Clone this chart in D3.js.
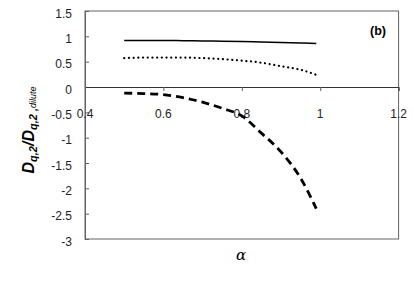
<!DOCTYPE html>
<html>
<head>
<meta charset="utf-8">
<script src="https://cdn.jsdelivr.net/npm/d3@7"></script>
<style>
  body { margin: 0; background: #fff; }
  text { font-family: "Liberation Sans", Arial, sans-serif; }
</style>
</head>
<body>
<svg id="chart" width="414" height="284"></svg>
<script>
// alpha values where the curves were read
const alphas = [0.5, 0.55, 0.6, 0.65, 0.7, 0.75, 0.8, 0.85, 0.9, 0.95, 0.99];
const solid  = [0.92, 0.92, 0.92, 0.915, 0.91, 0.905, 0.90, 0.89, 0.88, 0.87, 0.86];
const dotted = [0.57, 0.58, 0.58, 0.58, 0.57, 0.55, 0.52, 0.48, 0.41, 0.34, 0.24];
const dashed = [-0.12, -0.13, -0.15, -0.21, -0.30, -0.42, -0.57, -0.91, -1.28, -1.80, -2.40];

const xTicks = [0.4, 0.6, 0.8, 1, 1.2];
const yTicks = [1.5, 1, 0.5, 0, -0.5, -1, -1.5, -2, -2.5, -3];

const plotLeft = 85, plotRight = 398.6, plotTop = 11, plotBottom = 239;

const svg = d3.select('#chart');
const x = d3.scaleLinear().domain([0.4, 1.2]).range([plotLeft, plotRight]);
const y = d3.scaleLinear().domain([-3, 1.5]).range([plotBottom, plotTop]);

const axisColor = '#5f6366';

// plot frame
svg.append('rect')
  .attr('x', plotLeft).attr('y', plotTop)
  .attr('width', plotRight - plotLeft).attr('height', plotBottom - plotTop)
  .attr('fill', 'none').attr('stroke', axisColor).attr('stroke-width', 1);

// y axis
const yAxis = svg.append('g')
  .attr('transform', `translate(${plotLeft},0)`)
  .call(d3.axisRight(y).tickValues(yTicks).tickSize(4).tickFormat(''));
yAxis.select('.domain').attr('stroke', axisColor);
yAxis.selectAll('line').attr('stroke', axisColor);

svg.append('g').selectAll('text')
  .data(yTicks)
  .enter()
  .append('text')
  .attr('x', 72)
  .attr('y', (d) => y(d) + 6.5)
  .attr('text-anchor', 'end')
  .style('font-size', '12px')
  .attr('fill', '#222')
  .text((d) => d < 0 ? '-' + Math.abs(d) : d);

// x axis at zero
const xAxis = svg.append('g')
  .attr('transform', `translate(0,${y(0)})`)
  .call(d3.axisBottom(x).tickValues(xTicks).tickSize(4).tickFormat(''));
xAxis.select('.domain').attr('stroke', '#333');
xAxis.selectAll('line').attr('stroke', axisColor);

svg.append('g').selectAll('text')
  .data(xTicks)
  .enter()
  .append('text')
  .attr('x', (d) => x(d))
  .attr('y', y(0) + 30.5)
  .attr('text-anchor', 'middle')
  .style('font-size', '12px')
  .attr('fill', '#222')
  .text((d) => d);

// curves
const line = d3.line()
  .x((d, i) => x(alphas[i]))
  .y((d) => y(d))
  .curve(d3.curveMonotoneX);

svg.append('path').datum(solid)
  .attr('d', line).attr('fill', 'none')
  .attr('stroke', '#000').attr('stroke-width', 1.5);

svg.append('path').datum(dotted)
  .attr('d', line).attr('fill', 'none')
  .attr('stroke', '#000').attr('stroke-width', 2.2)
  .attr('stroke-linecap', 'round')
  .attr('stroke-dasharray', '0.1 4.6');

svg.append('path').datum(dashed)
  .attr('d', line).attr('fill', 'none')
  .attr('stroke', '#000').attr('stroke-width', 2.8)
  .attr('stroke-dasharray', '8 5');

// panel tag
svg.append('text')
  .attr('x', 378).attr('y', 35)
  .attr('text-anchor', 'middle')
  .style('font-size', '12.5px').style('font-weight', 'bold')
  .text('(b)');

// x title
svg.append('text')
  .attr('x', 241).attr('y', 260)
  .attr('text-anchor', 'middle')
  .style('font-size', '15px').style('font-style', 'italic')
  .style('font-family', '"DejaVu Serif", serif')
  .text('α');

// y title
const yt = svg.append('text')
  .attr('transform', 'translate(34,130) rotate(-90)')
  .attr('text-anchor', 'middle')
  .style('font-weight', 'bold').style('font-style', 'italic')
  .style('font-size', '16px');
yt.append('tspan').text('D');
yt.append('tspan').attr('baseline-shift', '-25%').style('font-size', '11px').text('q,2');
yt.append('tspan').text('/D');
yt.append('tspan').attr('baseline-shift', '-25%').style('font-size', '11px').text('q,2 ,');
yt.append('tspan').attr('baseline-shift', '-25%').style('font-size', '9px').style('font-weight', 'normal').text('dilute');
</script>
</body>
</html>
